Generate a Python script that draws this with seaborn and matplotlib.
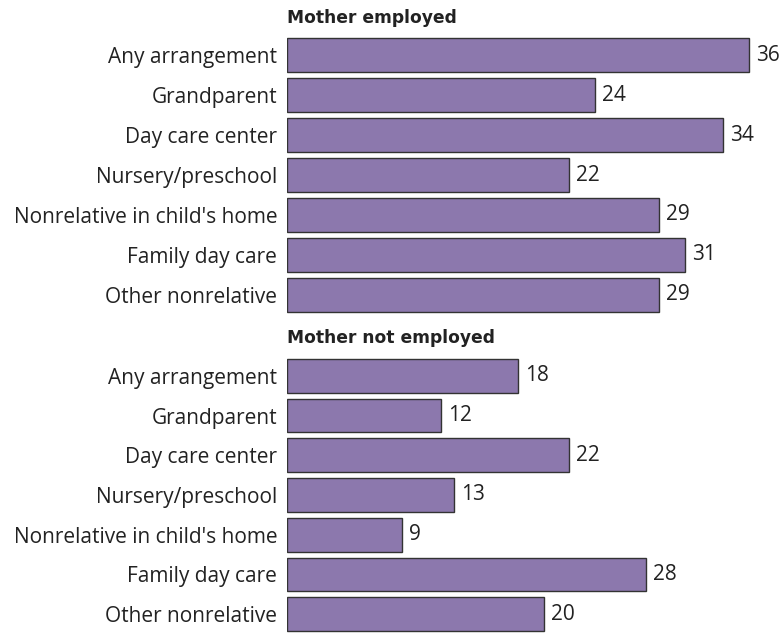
import matplotlib
matplotlib.use("Agg")
import matplotlib.pyplot as plt
import seaborn as sns
import pandas as pd

# data
arrangements = [
    "Any arrangement", "Grandparent", "Day care center", "Nursery/preschool",
    "Nonrelative in child's home", "Family day care", "Other nonrelative",
]
employed = [36, 24, 34, 22, 29, 31, 29]
not_employed = [18, 12, 22, 13, 9, 28, 20]
groups = ["Mother employed", "Mother not employed"]

sns.set_style("white")
plt.rcParams["font.family"] = ["Open Sans", "DejaVu Sans"]

W, H = 783, 634
fig = plt.figure(figsize=(W / 100, H / 100), dpi=100)

bar_color = "#8c78ad"
edge_color = "#333333"
left = 287 / W
x_max = 38
width = x_max * 12.83 / W

# axes boxes in pixel rows (top, bottom)
boxes = [(35, 315), (356, 634)]
heading_y = [18, 338]

for values, title, (top, bottom), hy in zip([employed, not_employed], groups, boxes, heading_y):
    ax = fig.add_axes([left, 1 - bottom / H, width, (bottom - top) / H])
    df = pd.DataFrame({"arrangement": arrangements, "percent": values})
    sns.barplot(data=df, x="percent", y="arrangement", color=bar_color,
                edgecolor=edge_color, linewidth=1, width=0.85, saturation=1, ax=ax)
    ax.set_xlim(0, x_max)
    ax.bar_label(ax.containers[0], fmt="%d", padding=5, fontsize=15, color="#222222")
    ax.set_xlabel("")
    ax.set_ylabel("")
    ax.set_xticks([])
    ax.tick_params(axis="y", length=0, pad=7, labelsize=15, labelcolor="#222222")
    for s in ax.spines.values():
        s.set_visible(False)
    fig.text(left, 1 - hy / H, title, fontsize=12.3, fontweight="bold",
             family="DejaVu Sans", va="center", ha="left", color="#222222")

fig.savefig("out.png", dpi=100)
